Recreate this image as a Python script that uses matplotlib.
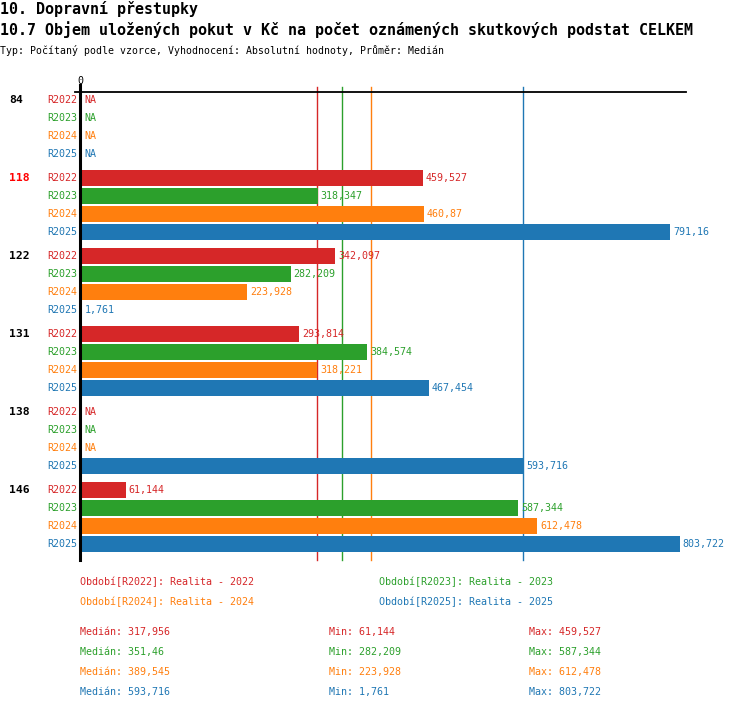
import numpy as np
import matplotlib
matplotlib.use('Agg')
import matplotlib.pyplot as plt
from matplotlib.transforms import blended_transform_factory

# data
groups = ['84', '118', '122', '131', '138', '146']
series = ['R2022', 'R2023', 'R2024', 'R2025']
r2022 = [np.nan, 459.527, 342.097, 293.814, np.nan, 61.144]
r2023 = [np.nan, 318.347, 282.209, 384.574, np.nan, 587.344]
r2024 = [np.nan, 460.87, 223.928, 318.221, np.nan, 612.478]
r2025 = [np.nan, 791.16, 1.761, 467.454, 593.716, 803.722]
values = [r2022, r2023, r2024, r2025]
medians = [317.956, 351.46, 389.545, 593.716]
colors = ['#d62728', '#2ca02c', '#ff7f0e', '#1f77b4']
highlight = '118'

plt.rcParams['font.family'] = ['DejaVu Sans Mono']

W, H = 750, 710
fig = plt.figure(figsize=(W / 100, H / 100), dpi=100)


def px(x, y):
    return x / W, 1 - y / H


# axes placed in pixel space: left 75, right 686, top 92, bottom 560
ax = fig.add_axes([75 / W, 1 - 560 / H, (686 - 75) / W, (560 - 92) / H])
scale = 0.7463  # px per unit
ax.set_xlim(-5 / scale, 606 / scale)
step = 78 / 18  # group spacing in rows
ytop = (92 - 100) / 18
ybot = (560 - 100) / 18
ax.set_ylim(ybot, ytop)
ax.axis('off')

ax.plot([ax.get_xlim()[0], ax.get_xlim()[1]], [ytop, ytop], color='black', lw=1.3, clip_on=False)

fmt = lambda v: ('%.3f' % v).rstrip('0').rstrip('.').replace('.', ',')

lab_tr = blended_transform_factory(fig.transFigure, ax.transData)
for g, grp in enumerate(groups):
    base = g * step
    ax.text(9 / W, base, grp, transform=lab_tr, fontsize=8.2, fontweight='bold',
            color='red' if grp == highlight else 'black', va='center', ha='left')
    for i, s in enumerate(series):
        y = base + i
        v = values[i][g]
        ax.text(-2.5 / scale, y, s, color=colors[i], fontsize=7.2, ha='right', va='center')
        if np.isnan(v):
            ax.text(4 / scale, y, 'NA', color=colors[i], fontsize=7.2, ha='left', va='center')
        else:
            ax.barh(y, v, height=16 / 18, color=colors[i], left=0, zorder=3)
            ax.text(v + 3 / scale, y, fmt(v), color=colors[i], fontsize=7.2, ha='left', va='center')

mins = [np.nanmin(v) for v in values]
maxs = [np.nanmax(v) for v in values]

for m, c in zip(medians, colors):
    ax.plot([m, m], [(87 - 100) / 18, ybot], color=c, lw=1, clip_on=False, zorder=1)

ax.plot([0, 0], [(85 - 100) / 18, ybot], color='black', lw=2.2, clip_on=False, zorder=4)
ax.text(0, (81 - 100) / 18, '0', fontsize=7.2, ha='center', va='center')

# titles
fig.text(*px(0, 9), '10. Dopravní přestupky', fontsize=10.8, fontweight='bold', va='center')
fig.text(*px(0, 30), '10.7 Objem uložených pokut v Kč na počet oznámených skutkových podstat CELKEM',
         fontsize=10.8, fontweight='bold', va='center')
fig.text(*px(0, 50), 'Typ: Počítaný podle vzorce, Vyhodnocení: Absolutní hodnoty, Průměr: Medián',
         fontsize=7.1, va='center')

# legend
leg_pos = [(80, 582), (379, 582), (80, 602), (379, 602)]
for s, c, (x, y) in zip(series, colors, leg_pos):
    fig.text(*px(x, y), 'Období[%s]: Realita - %s' % (s, s[1:]), color=c, fontsize=7.2, va='center')

# stats
for i, c in enumerate(colors):
    y = 632 + 20 * i
    fig.text(*px(80, y), 'Medián: ' + fmt(medians[i]), color=c, fontsize=7.2, va='center')
    fig.text(*px(329, y), 'Min: ' + fmt(mins[i]), color=c, fontsize=7.2, va='center')
    fig.text(*px(529, y), 'Max: ' + fmt(maxs[i]), color=c, fontsize=7.2, va='center')

fig.savefig('out.png', dpi=100)
